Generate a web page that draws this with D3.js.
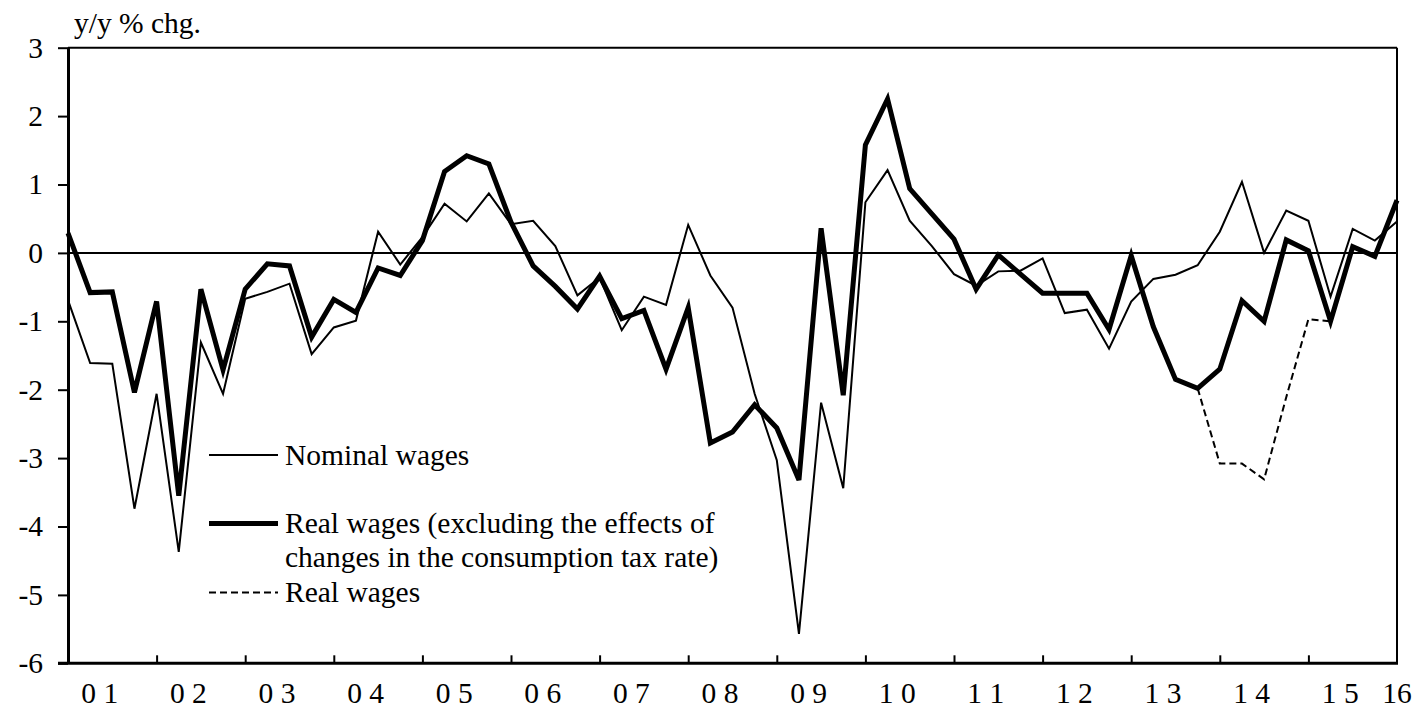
<!DOCTYPE html>
<html>
<head>
<meta charset="utf-8">
<script src="https://cdn.jsdelivr.net/npm/d3@7"></script>
<style>
  html, body { margin: 0; padding: 0; background: #fff; }
  svg { display: block; }
  text { font-family: "Liberation Serif", "Times New Roman", serif; fill: #000; font-size: 29.5px; }
</style>
</head>
<body>
<svg id="chart" width="1415" height="709"></svg>
<script>
// Quarterly observations, year-on-year % change (61 quarters, 2001 .. 2016)
const nominalWages = [
  -0.69, -1.61, -1.62, -3.74, -2.06, -4.37, -1.31, -2.06, -0.67, -0.57,
  -0.45, -1.48, -1.09, -0.99,  0.31, -0.17,  0.23,  0.72,  0.46,  0.87,
   0.42,  0.47,  0.10, -0.62, -0.36, -1.13, -0.64, -0.76,  0.41, -0.33,
  -0.80, -2.06, -3.03, -5.57, -2.19, -3.44,  0.74,  1.21,  0.47,  0.10,
  -0.31, -0.48, -0.27, -0.26, -0.08, -0.88, -0.83, -1.40, -0.71, -0.38,
  -0.32, -0.18,  0.31,  1.04,  0.00,  0.62,  0.47, -0.64,  0.35,  0.18,
   0.46
];

const realWagesExTax = [
   0.29, -0.58, -0.57, -2.04, -0.71, -3.55, -0.53, -1.71, -0.53, -0.16,
  -0.19, -1.23, -0.68, -0.87, -0.22, -0.33,  0.18,  1.19,  1.42,  1.30,
   0.45, -0.19, -0.49, -0.82, -0.34, -0.96, -0.84, -1.70, -0.80, -2.78,
  -2.62, -2.22, -2.56, -3.32,  0.36, -2.08,  1.58,  2.25,  0.94,  0.57,
   0.20, -0.53, -0.03, -0.31, -0.59, -0.59, -0.59, -1.12, -0.04, -1.08,
  -1.85, -1.98, -1.70, -0.70, -1.00,  0.19,  0.03, -1.00,  0.09, -0.05,
   0.77
];

// Real wages including the tax effect, shown only where they differ
const realWagesStart = 51;
const realWages = [-1.98, -3.08, -3.08, -3.31, -2.11, -0.97, -1.00];

const yearLabels = ["0 1","0 2","0 3","0 4","0 5","0 6","0 7","0 8","0 9","1 0",
                    "1 1","1 2","1 3","1 4","1 5"];
const lastLabel = "16";
const yTicks = [-6, -5, -4, -3, -2, -1, 0, 1, 2, 3];

const svg = d3.select("#chart");
const plotLeft = 68, plotRight = 1397, plotTop = 47.7, plotBottom = 663.3;

const x = d3.scaleLinear().domain([0, nominalWages.length - 1]).range([plotLeft, plotRight]);
const y = d3.scaleLinear().domain([-6, 3]).range([plotBottom, plotTop]);

// frame: top and right borders
svg.append("line").attr("x1", plotLeft).attr("x2", plotRight).attr("y1", plotTop).attr("y2", plotTop)
  .attr("stroke", "#000").attr("stroke-width", 2);
svg.append("line").attr("x1", plotRight).attr("x2", plotRight).attr("y1", plotTop).attr("y2", plotBottom)
  .attr("stroke", "#000").attr("stroke-width", 2);

// zero line
svg.append("line").attr("x1", plotLeft).attr("x2", plotRight).attr("y1", y(0)).attr("y2", y(0))
  .attr("stroke", "#000").attr("stroke-width", 2);

// y axis
const yAxis = svg.append("g")
  .attr("transform", `translate(${plotLeft},0)`)
  .call(d3.axisLeft(y).tickValues(yTicks).tickSize(10).tickPadding(15).tickFormat(d => String(d)));
yAxis.select(".domain").attr("stroke-width", 3).attr("d", `M0.5,${plotTop}V${plotBottom}`);
yAxis.selectAll(".tick line").attr("stroke-width", 2);
yAxis.selectAll(".tick text").style("font-size", "29.5px")
  .style("font-family", '"Liberation Serif", "Times New Roman", serif');

// x axis: year boundaries with inward ticks
const yearTicks = d3.range(1, yearLabels.length).map(k => k * 4);
const xAxis = svg.append("g")
  .attr("transform", `translate(0,${plotBottom})`)
  .call(d3.axisBottom(x).tickValues(yearTicks).tickSize(-8).tickFormat(""));
xAxis.select(".domain").attr("stroke-width", 3).attr("d", `M${plotLeft - 10},0H${plotRight + 1}`);
xAxis.selectAll(".tick line").attr("stroke-width", 2);

// year labels centred within each year
const labelBaseline = 703;
svg.append("g").selectAll("text")
  .data(yearLabels)
  .join("text")
  .attr("x", (d, k) => x(k * 4 + 2) - 12.5)
  .attr("y", labelBaseline)
  .attr("text-anchor", "middle")
  .text(d => d);
svg.append("text")
  .attr("x", x(nominalWages.length - 1))
  .attr("y", labelBaseline)
  .attr("text-anchor", "middle")
  .text(lastLabel);

// unit label
svg.append("text").attr("x", 74).attr("y", 33).text("y/y % chg.");

// series
const line = d3.line().x((d, i) => x(i)).y(d => y(d));
const lineOffset = d3.line().x((d, i) => x(i + realWagesStart)).y(d => y(d));

svg.append("path").datum(realWages)
  .attr("d", lineOffset).attr("fill", "none")
  .attr("stroke", "#000").attr("stroke-width", 2).attr("stroke-dasharray", "7,4");

svg.append("path").datum(nominalWages)
  .attr("d", line).attr("fill", "none")
  .attr("stroke", "#000").attr("stroke-width", 2);

svg.append("path").datum(realWagesExTax)
  .attr("d", line).attr("fill", "none")
  .attr("stroke", "#000").attr("stroke-width", 5);

// legend
const legend = svg.append("g");
const lx1 = 209, lx2 = 278, tx = 285;
legend.append("line").attr("x1", lx1).attr("x2", lx2).attr("y1", 455).attr("y2", 455)
  .attr("stroke", "#000").attr("stroke-width", 2);
legend.append("text").attr("x", tx).attr("y", 464.5).text("Nominal wages");

legend.append("line").attr("x1", lx1).attr("x2", lx2).attr("y1", 523.5).attr("y2", 523.5)
  .attr("stroke", "#000").attr("stroke-width", 5);
legend.append("text").attr("x", tx).attr("y", 533).text("Real wages (excluding the effects of");
legend.append("text").attr("x", tx).attr("y", 567).text("changes in the consumption tax rate)");

legend.append("line").attr("x1", lx1).attr("x2", lx2).attr("y1", 592.5).attr("y2", 592.5)
  .attr("stroke", "#000").attr("stroke-width", 2).attr("stroke-dasharray", "7,4");
legend.append("text").attr("x", tx).attr("y", 602).text("Real wages");
</script>
</body>
</html>
